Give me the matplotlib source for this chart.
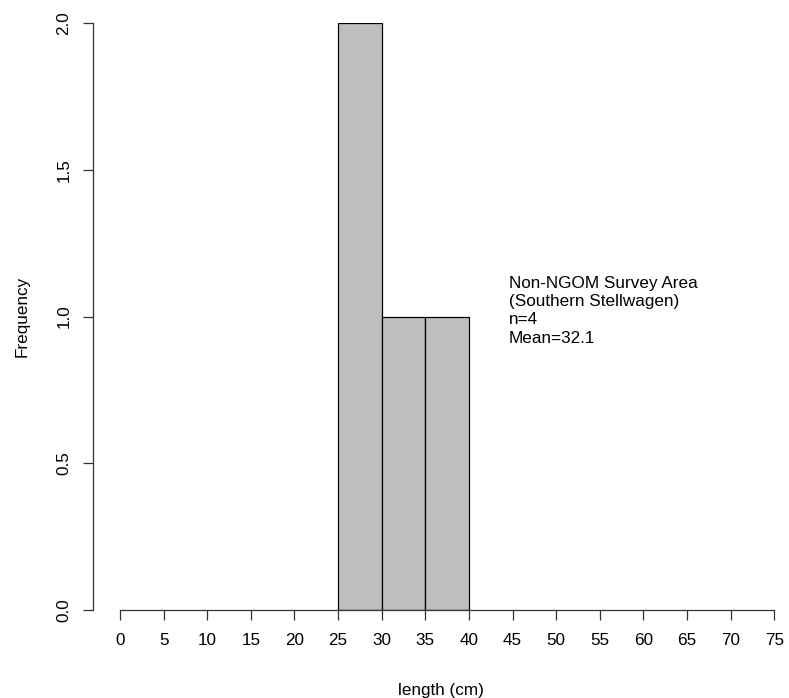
import matplotlib
matplotlib.use('Agg')
import matplotlib.pyplot as plt
import numpy as np

plt.rcParams['font.family'] = ['Liberation Sans', 'DejaVu Sans']

bin_left = [25, 30, 35]
counts = [2, 1, 1]
bin_width = 5
x_ticks = list(range(0, 80, 5))
y_ticks = [0.0, 0.5, 1.0, 1.5, 2.0]
note_lines = ['Non-NGOM Survey Area', '(Southern Stellwagen)', 'n=4', 'Mean=32.1']

W, H = 789, 698
fs = 12.3
fig = plt.figure(figsize=(W / 100, H / 100), dpi=100)
ax = fig.add_axes([93 / W, (H - 610) / H, (W - 93) / W, (610 - 23) / H])

ax.bar(bin_left, counts, width=bin_width, align='edge',
       color='#bebebe', edgecolor='black', linewidth=0.9)

ax.set_xlim(-3.1, 76.7)
ax.set_ylim(0, 2)

for s in ['top', 'right']:
    ax.spines[s].set_visible(False)
ax.spines['left'].set_bounds(0, 2)
ax.spines['bottom'].set_bounds(0, 75)
for s in ['left', 'bottom']:
    ax.spines[s].set_color('#333333')
    ax.spines[s].set_linewidth(0.9)

ax.set_xticks(x_ticks)
ax.set_xticklabels([str(t) for t in x_ticks])
ax.set_yticks(y_ticks)
ax.set_yticklabels(['%.1f' % t for t in y_ticks], rotation=90, va='center')
ax.tick_params(direction='out', length=7.5, width=0.9, color='#333333',
               labelsize=fs)
ax.tick_params(axis='x', pad=9)
ax.tick_params(axis='y', pad=8)

ax.set_xlabel('length (cm)', fontsize=fs, labelpad=25)
ax.set_ylabel('Frequency', fontsize=fs, labelpad=19)

ax.text(44.6, 1.138, '\n'.join(note_lines), fontsize=fs,
        ha='left', va='top', linespacing=1.27)

fig.savefig('out.png', dpi=100)
